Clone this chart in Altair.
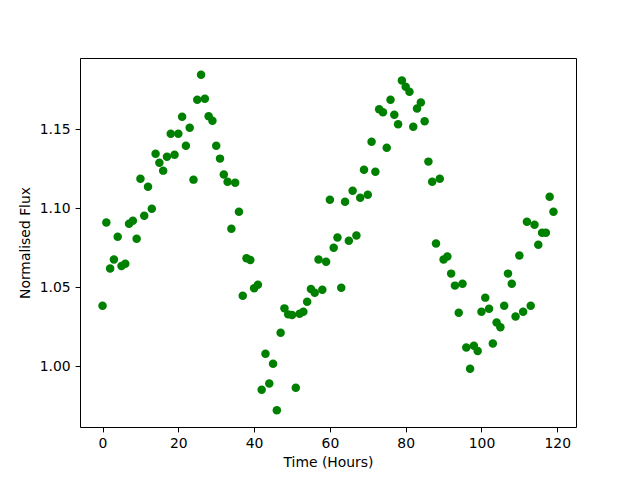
import altair as alt
import pandas as pd

hours = list(range(120))
flux = [
    1.0384, 1.0911, 1.0620, 1.0677, 1.0821, 1.0635, 1.0650, 1.0903, 1.0922, 1.0808,
    1.1188, 1.0954, 1.1137, 1.0998, 1.1346, 1.1289, 1.1239, 1.1327, 1.1473, 1.1340,
    1.1473, 1.1580, 1.1397, 1.1511, 1.1182, 1.1688, 1.1846, 1.1694, 1.1584, 1.1555,
    1.1397, 1.1315, 1.1215, 1.1169, 1.0871, 1.1163, 1.0979, 1.0447, 1.0684, 1.0673,
    1.0494, 1.0517, 0.9852, 1.0080, 0.9892, 1.0017, 0.9722, 1.0213, 1.0367, 1.0329,
    1.0325, 0.9865, 1.0333, 1.0346, 1.0409, 1.0489, 1.0466, 1.0677, 1.0485, 1.0662,
    1.1055, 1.0751, 1.0816, 1.0498, 1.1042, 1.0795, 1.1112, 1.0829, 1.1068, 1.1245,
    1.1087, 1.1422, 1.1232, 1.1627, 1.1608, 1.1384, 1.1688, 1.1593, 1.1532, 1.1810,
    1.1770, 1.1739, 1.1517, 1.1633, 1.1671, 1.1551, 1.1296, 1.1169, 1.0777, 1.1188,
    1.0677, 1.0696, 1.0587, 1.0511, 1.0340, 1.0523, 1.0120, 0.9985, 1.0131, 1.0097,
    1.0346, 1.0435, 1.0365, 1.0144, 1.0278, 1.0247, 1.0384, 1.0587, 1.0523, 1.0315,
    1.0701, 1.0346, 1.0916, 1.0384, 1.0897, 1.0770, 1.0846, 1.0846, 1.1074, 1.0979,
]
x_ticks = [0, 20, 40, 60, 80, 100, 120]
y_ticks = [1.00, 1.05, 1.10, 1.15]

df = pd.DataFrame({"hour": hours, "flux": flux})

axis_common = dict(
    domainColor="black", domainWidth=1, tickColor="black", tickSize=4.9, tickWidth=1,
    labelFont="DejaVu Sans", labelFontSize=13.9, labelColor="black", labelPadding=4.9,
    titleFont="DejaVu Sans", titleFontSize=13.9, titleFontWeight="normal", titleColor="black",
    grid=False,
)
xscale = alt.Scale(domain=[-5.95, 124.95], nice=False, zero=False)
yscale = alt.Scale(domain=[0.9616, 1.1952], nice=False, zero=False)

points = alt.Chart(df).mark_circle(color="#008000", opacity=1, size=72).encode(
    x=alt.X("hour:Q", title="Time (Hours)", scale=xscale,
            axis=alt.Axis(values=x_ticks, format="d", titlePadding=5, **axis_common)),
    y=alt.Y("flux:Q", title="Normalised Flux", scale=yscale,
            axis=alt.Axis(values=y_ticks, format=".2f", titlePadding=7, **axis_common)),
)

frame = alt.Chart(df).mark_circle(opacity=0).encode(
    x=alt.X("hour:Q", scale=xscale,
            axis=alt.Axis(orient="top", labels=False, ticks=False, title=None,
                          domainColor="black", domainWidth=1, grid=False)),
    y=alt.Y("flux:Q", scale=yscale,
            axis=alt.Axis(orient="right", labels=False, ticks=False, title=None,
                          domainColor="black", domainWidth=1, grid=False)),
)

chart = alt.layer(points, frame).resolve_axis(x="independent", y="independent").properties(
    width=496, height=369,
    autosize=alt.AutoSizeParams(type="none"),
    padding={"left": 72, "top": 50, "right": 56, "bottom": 45},
).configure_view(
    stroke=None
).configure(background="white")

chart.save("out.html", embed_options={"renderer": "svg", "actions": False})
